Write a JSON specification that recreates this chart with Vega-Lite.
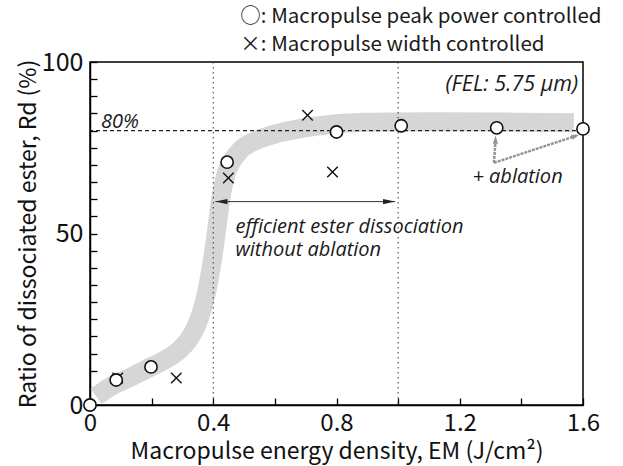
{
  "$schema": "https://vega.github.io/schema/vega-lite/v6.json",
  "width": 493,
  "height": 343,
  "autosize": "none",
  "padding": {"left": 90, "top": 62, "right": 40, "bottom": 61},
  "background": "white",
  "config": {
    "view": {"stroke": "black", "strokeWidth": 1.5},
    "font": "Noto Sans CJK JP",
    "axis": {"grid": false, "domainColor": "black", "domainWidth": 1.5, "tickColor": "black", "tickWidth": 1.3, "labelColor": "#111", "titleColor": "#111", "labelFont": "Noto Sans CJK JP", "titleFont": "Noto Sans CJK JP", "labelFontWeight": "normal", "titleFontWeight": "normal"}
  },
  "datasets": {
    "band": [
      {"x": 0.02, "y": 2.5}, {"x": 0.075, "y": 5.8}, {"x": 0.13, "y": 8}, {"x": 0.184, "y": 10.5},
      {"x": 0.24, "y": 13}, {"x": 0.29, "y": 16}, {"x": 0.32, "y": 19}, {"x": 0.345, "y": 23},
      {"x": 0.365, "y": 28}, {"x": 0.38, "y": 33.5}, {"x": 0.393, "y": 40}, {"x": 0.405, "y": 47},
      {"x": 0.415, "y": 54}, {"x": 0.425, "y": 60.5}, {"x": 0.44, "y": 67}, {"x": 0.46, "y": 71},
      {"x": 0.488, "y": 74.3}, {"x": 0.55, "y": 77.5}, {"x": 0.618, "y": 79.4}, {"x": 0.726, "y": 81.2},
      {"x": 0.89, "y": 82.4}, {"x": 1.1, "y": 82.6}, {"x": 1.35, "y": 82.5}, {"x": 1.57, "y": 82.3}
    ],
    "circles": [
      {"x": 0, "y": 0}, {"x": 0.085, "y": 7.3}, {"x": 0.198, "y": 11.1}, {"x": 0.445, "y": 70.8},
      {"x": 0.8, "y": 79.6}, {"x": 1.01, "y": 81.4}, {"x": 1.32, "y": 80.8}, {"x": 1.6, "y": 80.5}
    ],
    "crosses": [
      {"x": 0.09, "y": 7.9}, {"x": 0.28, "y": 7.9}, {"x": 0.449, "y": 66.2}, {"x": 0.706, "y": 84.5}, {"x": 0.787, "y": 67.9}
    ]
  },
  "layer": [
    {
      "data": {"name": "band"},
      "mark": {"type": "line", "color": "#d6d6d6", "strokeWidth": 19, "strokeCap": "butt", "interpolate": "monotone"},
      "encoding": {
        "x": {"field": "x", "type": "quantitative", "scale": {"domain": [0, 1.6], "nice": false, "zero": false},
          "axis": {"title": "Macropulse energy density, EM (J/cm²)", "titleFontSize": 23, "titlePadding": 5,
            "tickCount": 8, "format": ".1~f",
            "labelExpr": "indexof([0, 0.4, 0.8, 1.2, 1.6], round(datum.value * 10) / 10) >= 0 ? datum.label : ''",
            "labelFontSize": 24, "labelPadding": 13, "labelFlush": false, "labelOverlap": false,
            "tickSize": -7}},
        "y": {"field": "y", "type": "quantitative", "scale": {"domain": [0, 100], "nice": false, "zero": false},
          "axis": {"title": "Ratio of dissociated ester, Rd (%)", "titleFontSize": 23, "titlePadding": 1,
            "tickCount": 20, "format": "d",
            "labelExpr": "datum.value % 50 === 0 ? datum.label : ''",
            "labelFontSize": 25, "labelPadding": 14, "labelFlush": false, "labelOverlap": false,
            "tickSize": -7}}
      }
    },
    {
      "data": {"values": [{"x": 0.4}, {"x": 1.0}]},
      "mark": {"type": "rule", "color": "#333", "strokeWidth": 1, "strokeDash": [1.5, 3.5]},
      "encoding": {"x": {"field": "x", "type": "quantitative"}}
    },
    {
      "data": {"values": [{"y": 80}]},
      "mark": {"type": "rule", "color": "#222", "strokeWidth": 1.1, "strokeDash": [4, 3]},
      "encoding": {"y": {"field": "y", "type": "quantitative"}}
    },
    {
      "data": {"values": [{"x": 0.407, "x2": 0.99, "y": 59.3}]},
      "mark": {"type": "rule", "color": "#333", "strokeWidth": 1},
      "encoding": {"x": {"field": "x", "type": "quantitative"}, "x2": {"field": "x2"}, "y": {"field": "y", "type": "quantitative"}}
    },
    {
      "data": {"values": [{"x": 0.407, "y": 59.3}]},
      "mark": {"type": "point", "shape": "M0,0L2,-0.45L2,0.45Z", "filled": true, "color": "#222", "size": 144, "opacity": 1},
      "encoding": {"x": {"field": "x", "type": "quantitative"}, "y": {"field": "y", "type": "quantitative"}}
    },
    {
      "data": {"values": [{"x": 0.99, "y": 59.3}]},
      "mark": {"type": "point", "shape": "M0,0L-2,-0.45L-2,0.45Z", "filled": true, "color": "#222", "size": 144, "opacity": 1},
      "encoding": {"x": {"field": "x", "type": "quantitative"}, "y": {"field": "y", "type": "quantitative"}}
    },
    {
      "data": {"values": [{"x": 1.311, "y": 70.6, "x2": 1.316, "y2": 77.0}, {"x": 1.311, "y": 70.6, "x2": 1.578, "y2": 78.5}]},
      "mark": {"type": "rule", "color": "#939393", "strokeWidth": 2.5, "strokeDash": [3, 1]},
      "encoding": {"x": {"field": "x", "type": "quantitative"}, "y": {"field": "y", "type": "quantitative"}, "x2": {"field": "x2"}, "y2": {"field": "y2"}}
    },
    {
      "data": {"values": [{"x": 1.316, "y": 78.5}]},
      "mark": {"type": "point", "shape": "M0,0L-0.65,2L0.65,2Z", "filled": true, "color": "#939393", "size": 64, "opacity": 1},
      "encoding": {"x": {"field": "x", "type": "quantitative"}, "y": {"field": "y", "type": "quantitative"}}
    },
    {
      "data": {"values": [{"x": 1.588, "y": 78.8}]},
      "mark": {"type": "point", "shape": "M0,0L-0.65,2L0.65,2Z", "angle": 71.6, "filled": true, "color": "#939393", "size": 64, "opacity": 1},
      "encoding": {"x": {"field": "x", "type": "quantitative"}, "y": {"field": "y", "type": "quantitative"}}
    },
    {
      "data": {"values": [
        {"x": 0.036, "y": 82.6, "text": "80%"},
        {"x": 0.472, "y": 52, "text": "efficient ester dissociation"},
        {"x": 0.472, "y": 45.2, "text": "without ablation"},
        {"x": 1.241, "y": 66.6, "text": "+ ablation"}
      ]},
      "mark": {"type": "text", "font": "Open Sans", "fontStyle": "italic", "fontSize": 20, "align": "left", "baseline": "middle", "color": "#1a1a1a"},
      "encoding": {"x": {"field": "x", "type": "quantitative"}, "y": {"field": "y", "type": "quantitative"}, "text": {"field": "text"}}
    },
    {
      "data": {"values": [{"x": 1.584, "y": 93.3, "text": "(FEL: 5.75 μm)"}]},
      "mark": {"type": "text", "font": "Open Sans", "fontStyle": "italic", "fontSize": 21.5, "align": "right", "baseline": "middle", "color": "#1a1a1a"},
      "encoding": {"x": {"field": "x", "type": "quantitative"}, "y": {"field": "y", "type": "quantitative"}, "text": {"field": "text"}}
    },
    {
      "data": {"values": [
        {"x": 0.488, "y": 113.1, "text": "○: Macropulse peak power controlled"},
        {"x": 0.488, "y": 105, "text": "×: Macropulse width controlled"}
      ]},
      "mark": {"type": "text", "font": "Noto Sans CJK JP", "fontSize": 20.5, "align": "left", "baseline": "middle", "color": "#1a1a1a"},
      "encoding": {"x": {"field": "x", "type": "quantitative"}, "y": {"field": "y", "type": "quantitative"}, "text": {"field": "text"}}
    },
    {
      "data": {"name": "crosses"},
      "mark": {"type": "point", "shape": "M-1,-1L1,1M1,-1L-1,1", "filled": false, "color": "#111", "strokeWidth": 1.4, "size": 110, "opacity": 1},
      "encoding": {"x": {"field": "x", "type": "quantitative"}, "y": {"field": "y", "type": "quantitative"}}
    },
    {
      "data": {"name": "circles"},
      "mark": {"type": "point", "shape": "circle", "filled": false, "fill": "white", "fillOpacity": 1, "stroke": "#111", "strokeWidth": 1.6, "size": 150, "opacity": 1},
      "encoding": {"x": {"field": "x", "type": "quantitative"}, "y": {"field": "y", "type": "quantitative"}}
    }
  ]
}
